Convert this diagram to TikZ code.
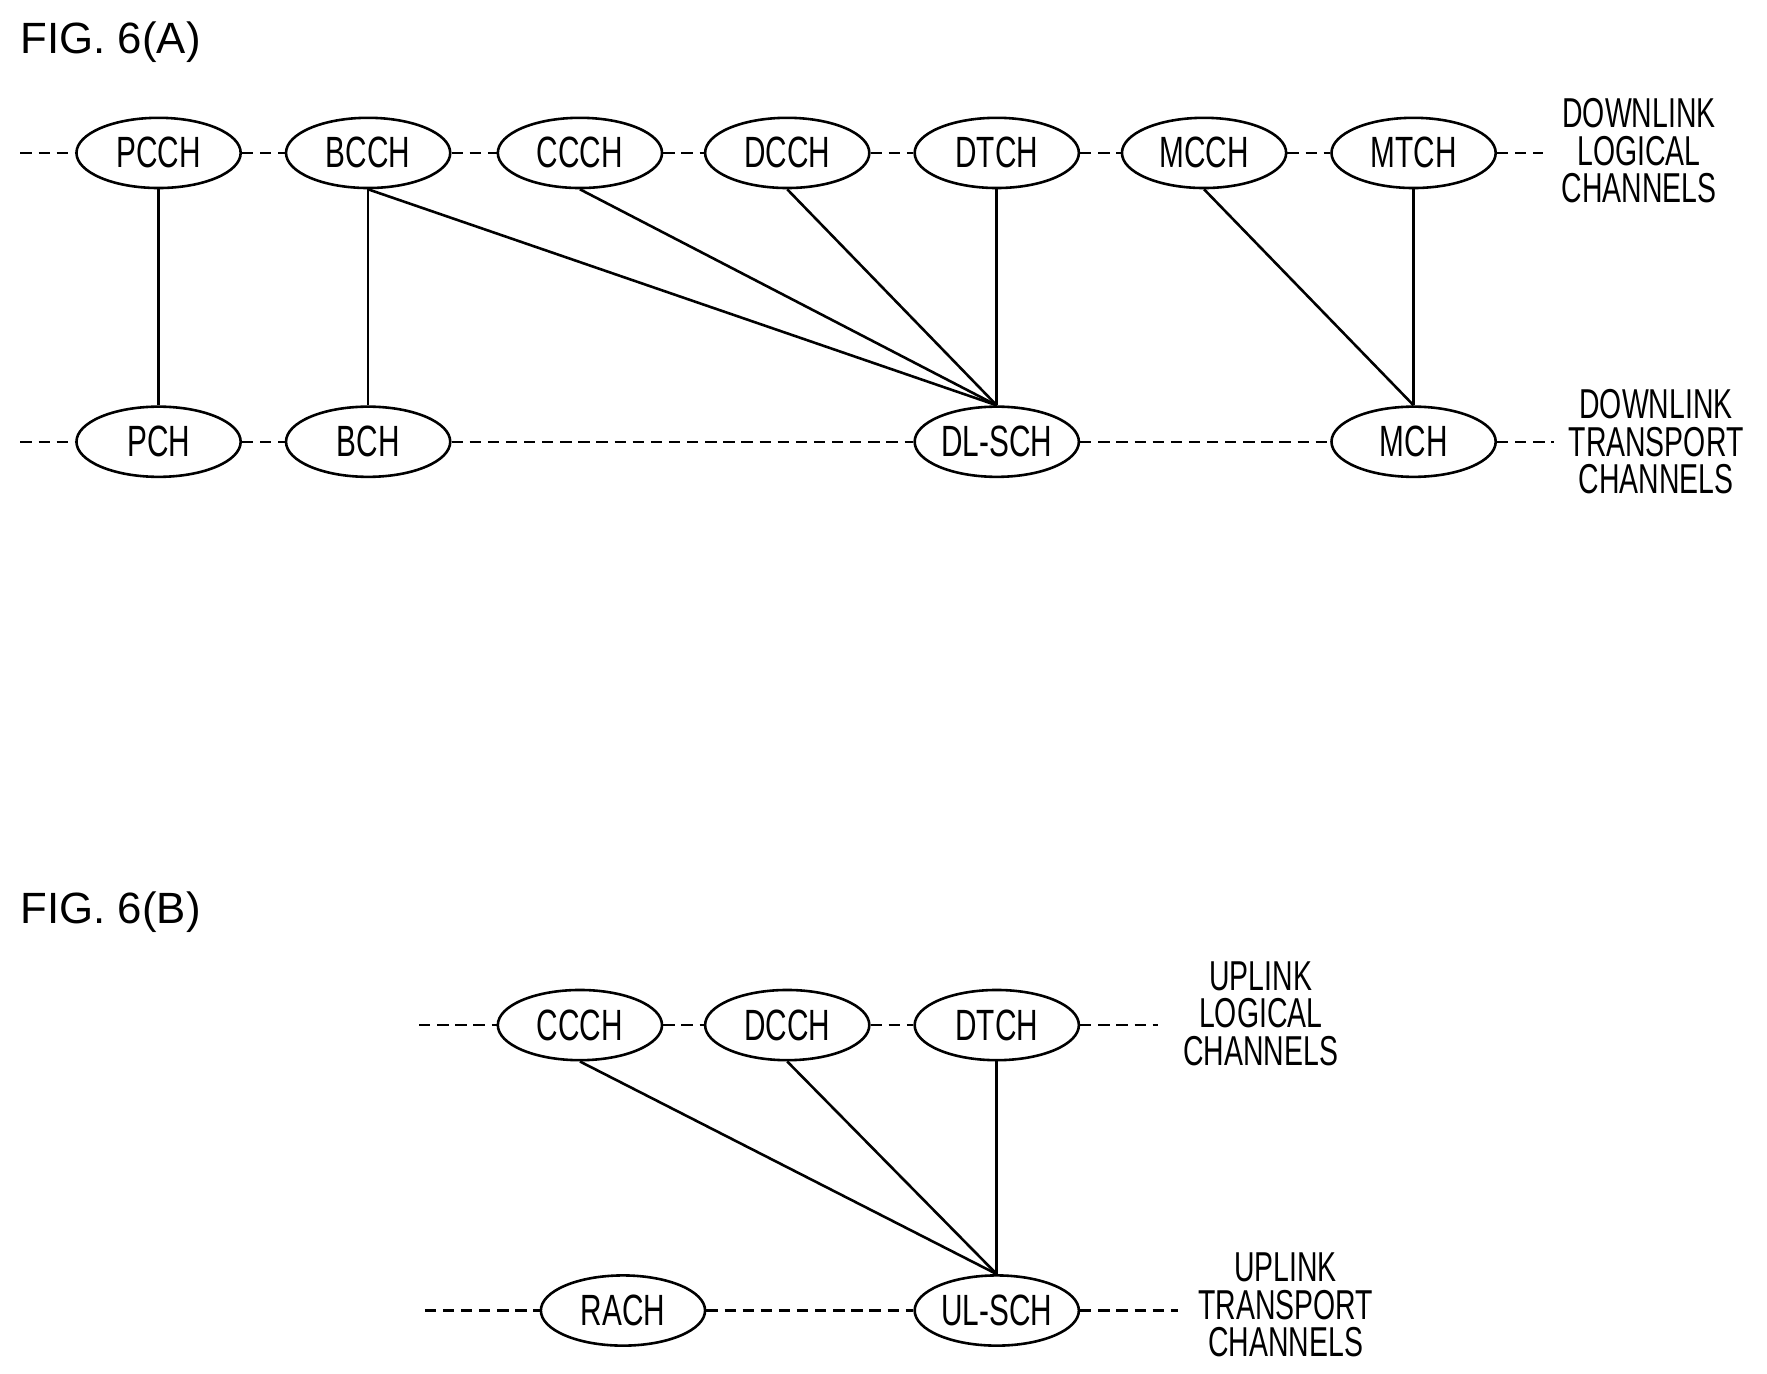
\documentclass[tikz,border=0pt]{standalone}
\usepackage{fontspec}
\setmainfont{Liberation Sans}
\usetikzlibrary{shapes.geometric}
\begin{document}
\begin{tikzpicture}[x=0.02cm,y=-0.02cm,
  ch/.style={ellipse,draw,line width=1.3pt,minimum width=2.9cm,minimum height=1.24cm,inner sep=0pt,font=\fontsize{22}{22}\selectfont},
  dl/.style={line width=1.2pt,dash pattern=on 0.2cm off 0.12cm},
  ln/.style={line width=1.3pt},
  lab/.style={align=center,font=\fontsize{21}{19}\selectfont},
  fig/.style={anchor=west,font=\fontsize{22}{22}\selectfont}]
\newcommand{\cx}[1]{\scalebox{0.68}[1]{#1}}
\useasboundingbox (0,0) rectangle (1560,1213);
\node[fig] (fa) at (12,37) {FIG. 6(A)};
\node[fig] (fb) at (12,805) {FIG. 6(B)};
% A top
\foreach \n/\x in {PCCH/140,BCCH/325,CCCH/512,DCCH/695,DTCH/880,MCCH/1063,MTCH/1248}
  \node[ch] (a\n) at (\x,135) {\cx{\n}};
\node[ch] (aPCH) at (140,390) {\cx{PCH}};
\node[ch] (aBCH) at (325,390) {\cx{BCH}};
\node[ch] (aDLSCH) at (880,390) {\cx{DL-SCH}};
\node[ch] (aMCH) at (1248,390) {\cx{MCH}};
\coordinate (l1) at (18,135); \coordinate (r1) at (1362,135);
\coordinate (l2) at (18,390); \coordinate (r2) at (1372,390);
\draw[dl] (l1) -- (aPCCH) (aPCCH) -- (aBCCH) (aBCCH) -- (aCCCH) (aCCCH) -- (aDCCH) (aDCCH) -- (aDTCH) (aDTCH) -- (aMCCH) (aMCCH) -- (aMTCH) (aMTCH) -- (r1);
\draw[dl] (l2) -- (aPCH) (aPCH) -- (aBCH) (aBCH) -- (aDLSCH) (aDLSCH) -- (aMCH) (aMCH) -- (r2);
\node[lab] (t1) at (1447,133) {\cx{DOWNLINK}\\\cx{LOGICAL}\\\cx{CHANNELS}};
\node[lab] (t2) at (1462,390) {\cx{DOWNLINK}\\\cx{TRANSPORT}\\\cx{CHANNELS}};
\draw[ln] (aPCCH) -- (aPCH);
\draw[ln] (aBCCH) -- (aBCH);
\draw[ln] (aBCCH.south) -- (aDLSCH.north);
\draw[ln] (aCCCH.south) -- (aDLSCH.north);
\draw[ln] (aDCCH.south) -- (aDLSCH.north);
\draw[ln] (aDTCH.south) -- (aDLSCH.north);
\draw[ln] (aMCCH.south) -- (aMCH.north);
\draw[ln] (aMTCH.south) -- (aMCH.north);
% B
\foreach \n/\x in {CCCH/512,DCCH/695,DTCH/880}
  \node[ch] (b\n) at (\x,905) {\cx{\n}};
\node[ch] (bRACH) at (550,1157) {\cx{RACH}};
\node[ch] (bULSCH) at (880,1157) {\cx{UL-SCH}};
\coordinate (l3) at (370,905); \coordinate (r3) at (1022,905);
\coordinate (l4) at (375,1157); \coordinate (r4) at (1040,1157);
\draw[dl] (l3) -- (bCCCH) (bCCCH) -- (bDCCH) (bDCCH) -- (bDTCH) (bDTCH) -- (r3);
\draw[dl] (l4) -- (bRACH) (bRACH) -- (bULSCH) (bULSCH) -- (r4);
\node[lab] (t3) at (1113,895) {\cx{UPLINK}\\\cx{LOGICAL}\\\cx{CHANNELS}};
\node[lab] (t4) at (1135,1152) {\cx{UPLINK}\\\cx{TRANSPORT}\\\cx{CHANNELS}};
\draw[ln] (bCCCH.south) -- (bULSCH.north);
\draw[ln] (bDCCH.south) -- (bULSCH.north);
\draw[ln] (bDTCH.south) -- (bULSCH.north);
\end{tikzpicture}
\end{document}
